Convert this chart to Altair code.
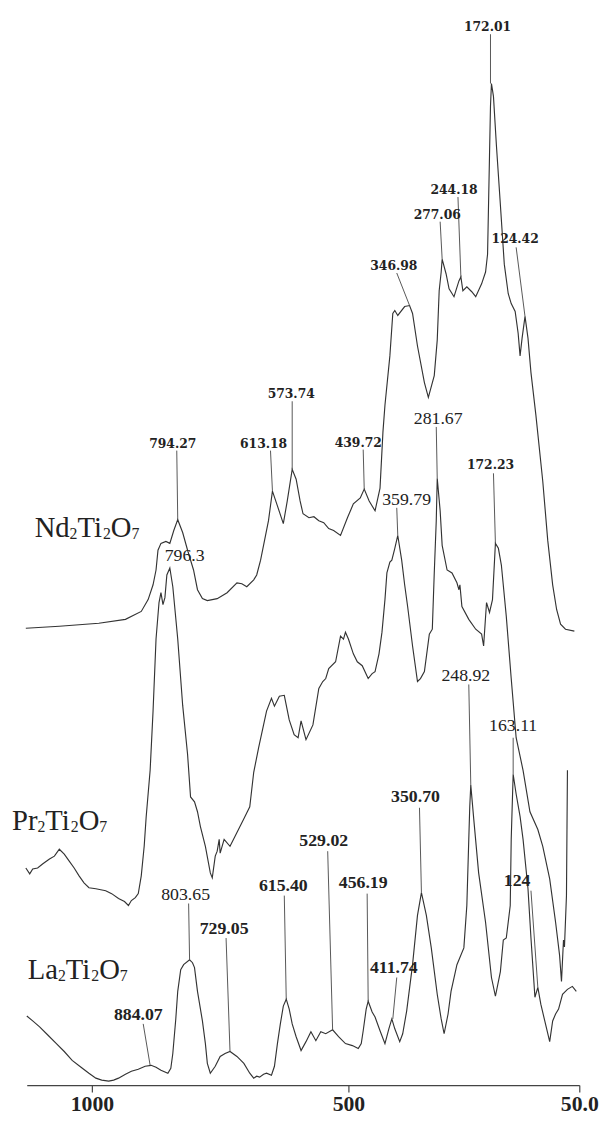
import altair as alt
import pandas as pd

# ---------------- spectra (wavenumber cm-1, offset intensity a.u.) ----------------
nd_x = [1128.8,1063.5,986.5,934.6,903.8,890.4,880.8,875.0,871.2,865.4,855.8,848.1,840.4,832.7,823.1,813.5,801.9,794.2,784.6,775.0,
        755.8,736.5,717.3,707.7,698.1,684.6,678.8,671.2,663.5,655.8,648.1,638.4,626.9,619.2,609.6,601.9,594.2,588.5,576.9,567.3,
        557.7,548.1,538.4,528.8,515.4,501.9,490.4,476.9,469.2,459.6,448.1,438.4,432.7,428.8,419.2,413.5,409.6,403.8,390.4,380.8,
        375.0,365.4,351.9,344.2,332.7,326.9,323.1,319.2,317.3,309.6,303.8,294.2,284.6,280.8,276.9,269.2,259.6,251.9,240.4,232.7,
        228.8,225.0,223.1,221.2,217.3,211.5,203.8,196.2,188.5,182.7,175.0,169.2,165.4,161.5,155.8,150.0,144.2,134.6,121.2,111.5,
        101.9,94.2,86.5,76.9,59.6]
nd_y = [463,465,468,472,480,492,507,522,542,549,551,549,562,573,560,542,522,502,493,491,
        493,499,509,508,505,512,517,532,552,572,602,587,569,592,624,614,592,579,575,576,
        572,570,564,562,557,575,589,595,604,592,582,605,662,689,739,782,785,780,789,790,
        782,749,712,697,719,755,805,824,837,822,807,799,815,819,805,809,804,799,812,824,
        842,942,992,1015,1002,952,892,832,802,792,784,762,739,757,779,757,722,679,612,552,
        507,482,467,462,460]

pr_x = [1128.8,1121.2,1115.4,1105.8,1096.2,1082.7,1073.1,1063.5,1053.9,1044.2,1034.6,1025.0,1015.4,1005.8,992.3,973.1,961.5,948.1,936.5,928.8,
        923.1,915.4,909.6,903.8,898.1,894.2,886.5,880.8,875.0,869.2,865.4,861.5,857.7,853.9,848.1,842.3,832.7,823.1,813.5,807.7,
        800.0,794.2,788.5,778.8,769.2,765.4,759.6,755.8,751.9,750.0,742.3,730.8,721.2,703.8,692.3,684.6,675.0,665.4,659.6,650.0,
        644.2,634.6,625.0,615.4,605.8,598.1,592.3,582.7,569.2,557.7,550.0,544.2,538.4,525.0,515.4,509.6,505.8,500.0,490.4,482.7,
        473.1,461.5,453.8,448.1,440.4,434.6,428.8,425.0,419.2,415.4,409.6,403.8,396.2,390.4,384.6,375.0,365.4,359.6,351.9,342.3,
        336.5,332.7,328.8,326.9,321.2,317.3,307.7,298.1,288.5,284.6,282.7,278.8,265.4,251.9,240.4,236.5,230.8,225.0,219.2,213.5,
        207.7,201.9,192.3,182.7,173.1,159.6,146.2,130.8,121.2,107.7,96.2,88.5,84.7,80.8,78.9,75.0,73.1]
pr_y = [220,214,219,220,224,229,232,239,234,227,220,212,205,200,199,197,194,189,186,182,
        187,190,194,212,242,272,319,379,452,489,499,487,494,517,524,505,452,385,335,292,
        287,277,262,242,215,210,232,237,249,235,249,242,252,270,282,317,342,365,379,392,
        384,394,395,370,355,352,369,350,365,402,409,412,422,429,455,452,459,452,437,429,
        425,412,417,419,437,459,492,519,530,532,544,557,532,507,485,445,409,412,419,457,
        462,519,572,615,582,547,522,519,509,502,507,485,472,462,457,445,489,479,492,549,
        544,527,475,412,352,319,277,259,242,209,165,132,105,147,140,192,319]

la_x = [1126.9,1115.4,1101.9,1086.5,1069.2,1053.9,1038.5,1021.2,1005.8,992.3,980.8,967.3,957.7,948.1,934.6,923.1,909.6,896.2,884.6,875.0,
        865.4,851.9,846.2,842.3,836.5,832.7,826.9,821.2,809.6,803.9,800.0,794.2,784.6,778.8,775.0,769.2,759.6,750.0,740.4,730.8,
        717.3,703.8,692.3,684.6,678.8,673.1,665.4,659.6,650.0,644.2,638.4,632.7,626.9,621.2,615.4,609.6,601.9,592.3,582.7,573.1,
        563.5,553.9,544.2,530.8,519.2,505.8,492.3,480.8,475.0,471.2,465.4,461.5,453.8,448.1,438.4,428.8,421.2,415.4,409.6,400.0,
        394.2,386.5,375.0,365.4,357.7,348.1,338.5,326.9,319.2,313.5,305.8,300.0,288.5,275.0,269.2,265.4,263.5,261.5,255.8,246.2,
        232.7,221.2,213.5,203.8,198.1,192.3,184.6,182.7,178.9,173.1,165.4,159.6,150.0,144.2,136.5,130.8,125.0,117.3,107.7,101.9,
        96.2,90.4,82.7,73.1,63.5,55.8]
la_y = [70,65,59,51,42,34,25,18,12,7,5,4,5,7,11,14,16,19,20,18,
        15,12,17,32,67,95,117,122,127,124,119,95,65,42,22,12,19,29,32,34,
        29,22,12,7,9,8,11,12,10,19,42,62,80,87,77,62,49,35,44,54,
        45,54,52,56,49,42,40,37,42,55,77,85,74,69,55,42,57,67,57,44,
        52,75,122,172,195,172,139,92,67,52,72,95,122,139,182,249,282,304,270,215,
        165,109,90,115,147,149,182,249,315,295,272,249,199,149,89,99,82,65,44,65,
        72,77,92,97,100,95]

# ---------------- peak annotations ----------------
ann_text = ["172.01","244.18","277.06","124.42","346.98","439.72","573.74","613.18","794.27","172.23",
            "281.67","359.79","796.3","248.92","163.11","803.65",
            "884.07","729.05","615.40","529.02","456.19","411.74","350.70","124"]
ann_style = ["small"] * 10 + ["regular"] * 6 + ["bold"] * 8
ann_x = [228.8,294.2,326.9,175.0,411.5,480.8,611.5,665.4,842.3,223.1,
         325.0,386.5,819.2,271.2,178.9,817.3,
         909.6,742.3,626.9,548.1,471.2,411.5,369.3,171.2]
ann_y = [1072,907,882,857,830,651,700,650,650,628,
         675,593,536,415,364,193,
         71,158,202,247,205,119,292,207]
lead_x1 = [223.1,286.5,321.2,173.1,405.8,471.2,609.6,651.9,834.6,217.3,
           328.8,405.8,None,265.4,178.9,811.5,
           900.0,738.5,625.0,540.4,463.5,405.8,361.5,144.2]
lead_y1 = [1065,900,875,849,823,644,693,643,643,620,
           667,585,None,406,352,184,
           62,149,192,237,194,109,281,197]
lead_x2 = [223.1,280.8,317.3,155.8,380.8,469.2,609.6,648.1,832.7,213.5,
           326.9,403.8,None,261.5,178.9,809.6,
           886.5,730.8,621.2,530.8,461.5,413.5,357.7,130.8]
lead_y2 = [1015,819,837,779,790,604,624,602,573,549,
           615,557,None,304,315,127,
           20,34,87,56,85,67,195,99]

# ---------------- compound names (main letters and subscripts) ----------------
name_piece = ["Nd", "2", "Ti", "2", "O", "7",
              "Pr", "2", "Ti", "2", "O", "7",
              "La", "2", "Ti", "2", "O", "7"]
name_is_sub = [0, 1, 0, 1, 0, 1] * 3
name_x = [1111.5, 1043.5, 1028.1, 978.5, 963.1, 922.9,
          1155.8, 1106.2, 1090.8, 1041.2, 1025.8, 985.6,
          1125.0, 1066.1, 1050.8, 1001.1, 985.8, 945.6]
name_base = [555] * 6 + [258] * 6 + [107] * 6

# ---------------- axis ticks ----------------
tick_values = [1000, 500, 50]

rows = []
for name, xs, ys in (("Nd", nd_x, nd_y), ("Pr", pr_x, pr_y), ("La", la_x, la_y)):
    for i, (a, b) in enumerate(zip(xs, ys)):
        rows.append({"series": name, "idx": i, "wn": a, "inten": b})
spec = pd.DataFrame(rows)

ann = pd.DataFrame({"text": ann_text, "style": ann_style, "x": ann_x, "y": ann_y,
                    "x1": lead_x1, "y1": lead_y1, "x2": lead_x2, "y2": lead_y2})
leads = ann.dropna(subset=["x1"])
names = pd.DataFrame({"text": name_piece, "sub": name_is_sub, "x": name_x,
                      "y": [b - 2 * s for b, s in zip(name_base, name_is_sub)]})

INK = "#333333"
xscale = alt.Scale(domain=[50, 1127], reverse=True, nice=False, zero=False)
yscale = alt.Scale(domain=[0, 1082], nice=False, zero=False)

xaxis = alt.Axis(values=tick_values, title=None, grid=False,
                 labelExpr="datum.value == 50 ? '50.0' : format(datum.value, 'd')",
                 labelFont="Liberation Serif", labelFontWeight="bold", labelFontSize=22,
                 labelColor="#222222", labelPadding=2, tickSize=7, tickColor="#444444",
                 domainColor="#444444", domainWidth=1.2, tickWidth=1.2, labelFlush=False)

lines = alt.Chart(spec).mark_line(color=INK, strokeWidth=1.15, clip=False).encode(
    x=alt.X("wn:Q", scale=xscale, axis=xaxis),
    y=alt.Y("inten:Q", scale=yscale, axis=None),
    detail="series:N",
    order="idx:Q",
)

rules = alt.Chart(leads).mark_rule(color="#444444", strokeWidth=0.9).encode(
    x=alt.X("x1:Q", scale=xscale), y=alt.Y("y1:Q", scale=yscale),
    x2="x2:Q", y2="y2:Q",
)

def label_layer(style, font, size, weight):
    return alt.Chart(ann).transform_filter(alt.datum.style == style).mark_text(
        font=font, fontSize=size, fontWeight=weight, color="#222222",
        baseline="middle", align="center",
    ).encode(
        x=alt.X("x:Q", scale=xscale), y=alt.Y("y:Q", scale=yscale), text="text:N"
    )

small = label_layer("small", "DejaVu Serif", 12.5, "bold")
regular = label_layer("regular", "Liberation Serif", 18, "normal")
bold = label_layer("bold", "Liberation Serif", 18, "bold")

def name_layer(is_sub, size):
    return alt.Chart(names).transform_filter(alt.datum.sub == is_sub).mark_text(
        font="Liberation Serif", fontSize=size, color="#222222",
        baseline="alphabetic", align="left",
    ).encode(x=alt.X("x:Q", scale=xscale), y=alt.Y("y:Q", scale=yscale), text="text:N")

main_names = name_layer(0, 29)
sub_names = name_layer(1, 16)

chart = alt.layer(lines, rules, small, regular, bold, main_names, sub_names).properties(
    width=560, height=1082,
    autosize=alt.AutoSizeParams(type="none"),
    padding={"left": 19, "top": 2, "right": 22, "bottom": 40},
    background="white",
).configure_view(stroke=None)

chart.save("out.html", embed_options={"renderer": "svg", "actions": False})
